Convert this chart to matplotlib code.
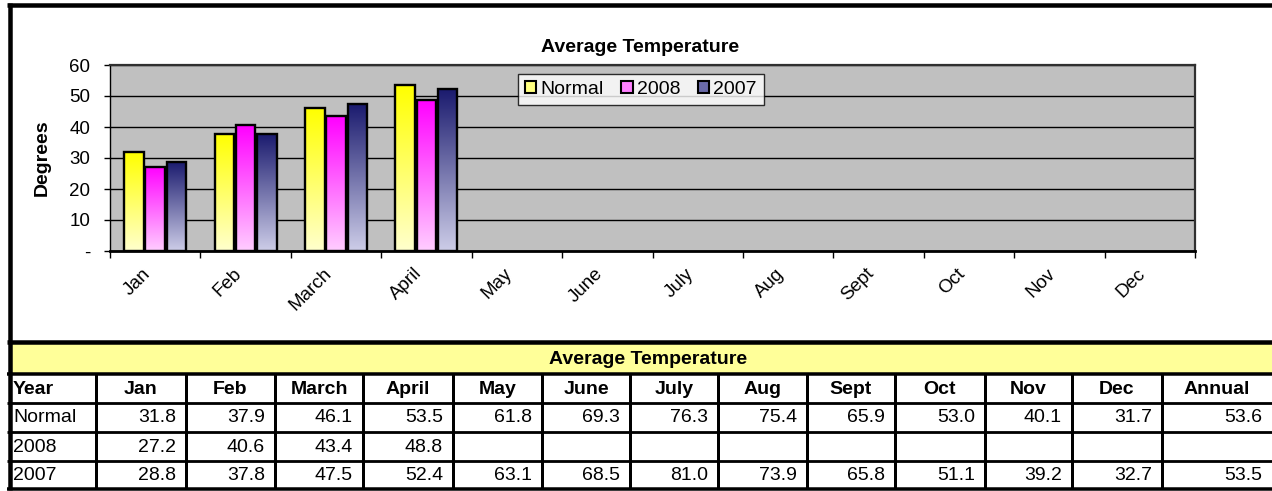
import numpy as np
import matplotlib
matplotlib.use('Agg')
import matplotlib.pyplot as plt
from matplotlib.patches import Patch

plt.rcParams['font.family'] = ['Liberation Sans', 'DejaVu Sans']

# ---------------- data ----------------
months = ['Jan', 'Feb', 'March', 'April', 'May', 'June', 'July', 'Aug',
          'Sept', 'Oct', 'Nov', 'Dec']
series_names = ['Normal', '2008', '2007']
normal = [31.8, 37.9, 46.1, 53.5, 61.8, 69.3, 76.3, 75.4, 65.9, 53.0, 40.1, 31.7]
y2008 = [27.2, 40.6, 43.4, 48.8, None, None, None, None, None, None, None, None]
y2007 = [28.8, 37.8, 47.5, 52.4, 63.1, 68.5, 81.0, 73.9, 65.8, 51.1, 39.2, 32.7]
annual = [53.6, None, 53.5]
yticks = [0, 10, 20, 30, 40, 50, 60]
ytick_labels = ['-', '10', '20', '30', '40', '50', '60']
chart_title = 'Average Temperature'
table_title = 'Average Temperature'
ylabel = 'Degrees'

series = [normal, y2008, y2007]
# months shown in chart: those with current-year data
n_chart = sum(v is not None for v in y2008)

# ---------------- figure ----------------
W, H = 1272, 491
fig = plt.figure(figsize=(W / 100, H / 100), dpi=100)

bg = fig.add_axes([0, 0, 1, 1], zorder=0)
bg.set_xlim(0, W)
bg.set_ylim(H, 0)
bg.axis('off')

def px(pxl):
    return pxl * 0.72

# outer frame
bg.hlines(5, 7, W, colors='black', lw=px(4.5))
bg.vlines(9.5, 3, 490, colors='black', lw=px(4.5))
bg.hlines(342, 7, W, colors='black', lw=px(4.5))

# chart
ax = fig.add_axes([110 / W, 1 - 251 / H, 1085 / W, 186 / H], zorder=2)
ax.set_facecolor('#C0C0C0')

offsets = [-0.235, 0.0, 0.235]
bw = 0.215
grads = [((255, 255, 0), (255, 255, 205)),
         ((255, 0, 255), (255, 205, 255)),
         ((26, 26, 110), (205, 205, 232))]
handle_cols = ['#FFFF80', '#FF80FF', '#6A6AA8']

for vals, off, (top, bot) in zip(series, offsets, grads):
    g = np.linspace(np.array(bot) / 255, np.array(top) / 255, 128).reshape(128, 1, 3)
    xs = []
    hs = []
    for i in range(n_chart):
        v = vals[i]
        if v is None:
            continue
        x0 = i + off - bw / 2
        ax.imshow(g, extent=[x0, x0 + bw, 0, v], origin='lower', aspect='auto',
                  zorder=2, interpolation='bilinear')
        xs.append(i + off)
        hs.append(v)
    ax.bar(xs, hs, bw, facecolor='none', edgecolor='black', linewidth=1.7, zorder=3)

ax.set_xlim(-0.5, len(months) - 0.5)
ax.set_ylim(0, 60)
ax.set_yticks(yticks)
ax.set_yticklabels(ytick_labels, fontsize=13.5)
ax.yaxis.grid(True, color='black', linewidth=1.0)
ax.set_axisbelow(True)

ax.set_xticks(np.arange(len(months) + 1) - 0.5)
ax.set_xticklabels([])
ax.tick_params(axis='x', length=5, width=1.0, direction='out')
ax.tick_params(axis='y', length=4.3, width=1.0, pad=10)

for i, m in enumerate(months):
    ax.annotate(m, xy=(i, 0), xycoords=('data', 'axes fraction'),
                xytext=(-13 * 0.72, -14 * 0.72), textcoords='offset points',
                ha='right', va='top', rotation=45, rotation_mode='anchor',
                fontsize=13.5, annotation_clip=False)

for s in ['top', 'right']:
    ax.spines[s].set_color('#303030')
    ax.spines[s].set_linewidth(1.6)
ax.spines['left'].set_linewidth(1.0)
ax.spines['bottom'].set_linewidth(2.0)

ax.set_ylabel(ylabel, fontsize=14, fontweight='bold', labelpad=13)

fig.text(640 / W, 1 - 48 / H, chart_title, ha='center', va='center',
         fontsize=14, fontweight='bold')

handles = [Patch(facecolor=c, edgecolor='black', linewidth=1.5) for c in handle_cols]
leg = ax.legend(handles, series_names, loc='upper left',
                bbox_to_anchor=(518 / W, 1 - 74 / H), bbox_transform=fig.transFigure,
                ncol=3, fontsize=14, frameon=True, fancybox=False,
                handlelength=0.6, handleheight=0.6, handletextpad=0.2,
                columnspacing=0.9, borderpad=0.35, borderaxespad=0)
leg.get_frame().set_edgecolor('black')
leg.get_frame().set_linewidth(1.0)

# ---------------- table ----------------
bg.fill_between([11, W], 344, 373, color='#FFFF99', zorder=0)
bg.text(648, 359, table_title, ha='center', va='center', fontsize=14, fontweight='bold')

col_edges = [9.5, 96, 186, 275, 363, 453, 542, 630, 718, 807, 895, 985, 1072, 1162, 1272]
row_edges = [374, 402.5, 431.5, 460.5, 489]

bg.hlines(row_edges[0], 7, W, colors='black', lw=px(3.5))
for yy in row_edges[1:-1]:
    bg.hlines(yy, 7, W, colors='black', lw=px(2.8))
bg.hlines(row_edges[-1], 7, W, colors='black', lw=px(3.5))
for xx in col_edges[1:-1]:
    bg.vlines(xx, row_edges[0], row_edges[-1], colors='black', lw=px(3))

header = ['Year'] + months + ['Annual']
rows = []
for name, vals, ann in zip(series_names, series, annual):
    cells = [name] + ['' if v is None else f'{v:.1f}' for v in vals] + \
            ['' if ann is None else f'{ann:.1f}']
    rows.append(cells)

def row_center(r):
    return (row_edges[r] + row_edges[r + 1]) / 2 + 1

for c, lab in enumerate(header):
    if c == 0:
        bg.text(13, row_center(0), lab, ha='left', va='center', fontsize=14, fontweight='bold')
    else:
        bg.text((col_edges[c] + col_edges[c + 1]) / 2, row_center(0), lab,
                ha='center', va='center', fontsize=14, fontweight='bold')

for r, cells in enumerate(rows, start=1):
    for c, txt in enumerate(cells):
        if c == 0:
            bg.text(13, row_center(r), txt, ha='left', va='center', fontsize=14)
        else:
            bg.text(col_edges[c + 1] - 10, row_center(r), txt, ha='right', va='center',
                    fontsize=14)

fig.savefig('out.png', dpi=100)
